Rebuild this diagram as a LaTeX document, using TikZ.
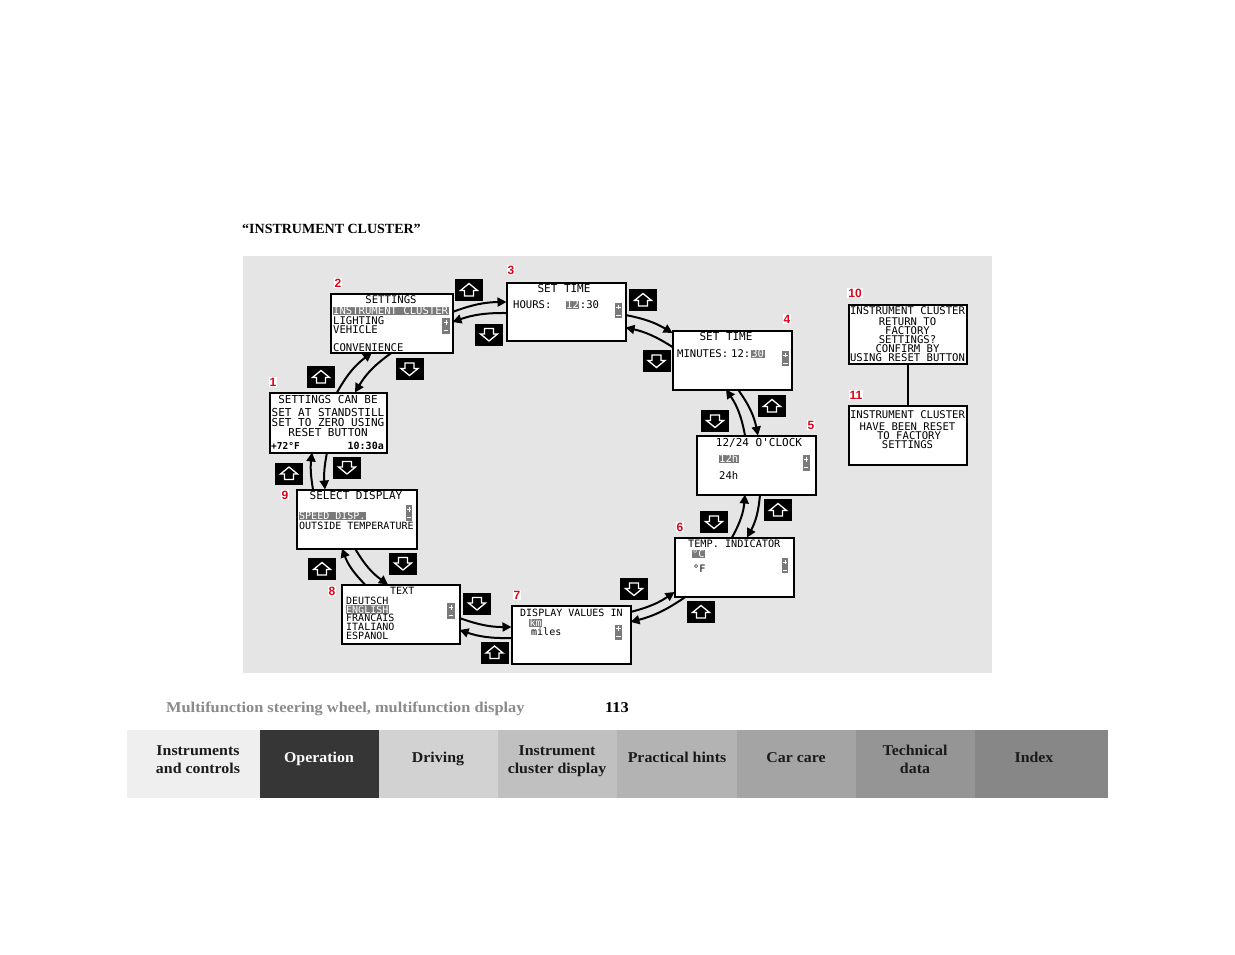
\documentclass[tikz,border=0pt]{standalone}
\usepackage{fontspec}
\setmainfont{Liberation Serif}
\newfontfamily\footfont{Liberation Serif}[FakeStretch=1.09]
\newfontfamily\tabfont{Liberation Serif}[FakeStretch=1.06]
\newfontfamily\lcdfont{DejaVu Sans Mono}[Ligatures=TeXOff]
\newfontfamily\numfont{Liberation Sans}
\usetikzlibrary{arrows.meta,calc}
\definecolor{panel}{RGB}{229,229,229}
\definecolor{hlgray}{RGB}{122,122,122}
\definecolor{labred}{RGB}{225,0,25}
\definecolor{footgray}{RGB}{138,138,138}
\definecolor{tabA}{RGB}{239,239,239}
\definecolor{tabB}{RGB}{54,54,54}
\definecolor{tabC}{RGB}{210,210,210}
\definecolor{tabD}{RGB}{192,192,192}
\definecolor{tabE}{RGB}{179,179,179}
\definecolor{tabF}{RGB}{164,164,164}
\definecolor{tabG}{RGB}{149,149,149}
\definecolor{tabH}{RGB}{135,135,135}
\definecolor{tabtext}{RGB}{26,26,26}
\begin{document}
\begin{tikzpicture}[x=1pt,y=-1pt,
  screen/.style={draw=black, line width=2pt, fill=white, inner sep=0pt, outer sep=0pt},
  lcd/.style={font=\lcdfont\fontsize{10.6}{10.6}\selectfont, inner sep=0pt, text height=7.5pt, text depth=0pt},
  lcdL/.style={lcd, font=\lcdfont\fontsize{11}{11}\selectfont},
  lcdS/.style={lcd, font=\lcdfont\fontsize{10}{10}\selectfont},
  lcdM/.style={lcd, font=\lcdfont\fontsize{10.2}{10.2}\selectfont},
  hl/.style={fill=hlgray, text=white, inner xsep=0.5pt, inner ysep=0.6pt},
  pm/.style={fill=hlgray, inner sep=0pt, minimum width=7pt, minimum height=15pt,
    path picture={
      \draw[white, line width=0.9pt]
        ([shift={(-2.2,-3.5)}]path picture bounding box.center) -- ++(4.4,0)
        ([shift={(0,-5.7)}]path picture bounding box.center) -- ++(0,4.4)
        ([shift={(-2.2,4.5)}]path picture bounding box.center) -- ++(4.4,0);}},
  btn/.style={fill=black, inner sep=0pt, minimum width=28pt, minimum height=22pt},
  upbtn/.style={btn, path picture={
      \draw[white, line width=1.3pt, line join=miter]
        ([shift={(0,-6.5)}]path picture bounding box.center) -- ++(8.5,7) -- ++(-4,0)
        -- ++(0,5.5) -- ++(-9,0) -- ++(0,-5.5) -- ++(-4,0) -- cycle;}},
  downbtn/.style={btn, path picture={
      \draw[white, line width=1.3pt, line join=miter]
        ([shift={(0,6.5)}]path picture bounding box.center) -- ++(8.5,-7) -- ++(-4,0)
        -- ++(0,-5.5) -- ++(-9,0) -- ++(0,5.5) -- ++(-4,0) -- cycle;}},
  conn/.style={line width=2pt, -{Triangle[length=9pt,width=9pt]}},
  lab/.style={font=\numfont\bfseries\fontsize{12}{12}\selectfont, text=labred, fill=white, inner sep=1pt},
  tabtxt/.style={font=\tabfont\bfseries\fontsize{15}{15}\selectfont, text=tabtext, anchor=base, inner sep=0pt}
]
\useasboundingbox (0,0) rectangle (1235,954);
\fill[white] (0,0) rectangle (1235,954);

% title
\node[anchor=base west, inner sep=0pt, font=\bfseries\fontsize{14}{14}\selectfont] (title) at (242,233.5) {“INSTRUMENT CLUSTER”};

% panel
\fill[panel] (243,256) rectangle (992,673);

% screens
\node[screen, minimum width=117pt, minimum height=60pt] (s1) at (328,422.5) {};
\node[screen, minimum width=122pt, minimum height=59pt] (s2) at (391.5,323) {};
\node[screen, minimum width=119pt, minimum height=58pt] (s3) at (566,311.5) {};
\node[screen, minimum width=119pt, minimum height=59pt] (s4) at (732,360) {};
\node[screen, minimum width=119pt, minimum height=59pt] (s5) at (756,465) {};
\node[screen, minimum width=119pt, minimum height=59pt] (s6) at (734,567) {};
\node[screen, minimum width=119pt, minimum height=58pt] (s7) at (571,634.5) {};
\node[screen, minimum width=118pt, minimum height=59pt] (s8) at (400.5,614) {};
\node[screen, minimum width=120pt, minimum height=59pt] (s9) at (356.5,519) {};
\node[screen, minimum width=118pt, minimum height=59pt] (s10) at (907.5,334) {};
\node[screen, minimum width=118pt, minimum height=59pt] (s11) at (907.5,435) {};

% connectors
\draw[conn] ([shift={(9,0)}]s1.north) to[bend left=12] ([shift={(-19.5,0)}]s2.south);
\draw[conn] ([shift={(0.5,0)}]s2.south) to[bend right=12] ([shift={(27,0)}]s1.north);
\draw[conn] ([shift={(0,-11)}]s2.east) to[bend left=10] ([shift={(0,-9.5)}]s3.west);
\draw[conn] ([shift={(0,1.5)}]s3.west) to[bend right=10] ([shift={(0,-1)}]s2.east);
\draw[conn] ([shift={(0,3.5)}]s3.east) to[bend left=10] ([shift={(0,-27)}]s4.west);
\draw[conn] ([shift={(0,-13)}]s4.west) to[bend right=10] ([shift={(0,16)}]s3.east);
\draw[conn] ([shift={(6,0)}]s4.south) to[bend left=12] ([shift={(2,0)}]s5.north);
\draw[conn] ([shift={(-11,0)}]s5.north) to[bend right=12] ([shift={(-6,0)}]s4.south);
\draw[conn] ([shift={(4,0)}]s5.south) to[bend left=12] ([shift={(13,0)}]s6.north);
\draw[conn] ([shift={(-2,0)}]s6.north) to[bend right=12] ([shift={(-11,0)}]s5.south);
\draw[conn] ([shift={(-48,0)}]s6.south) to[bend left=10] ([shift={(0,-12.5)}]s7.east);
\draw[conn] ([shift={(0,-22.5)}]s7.east) to[bend right=10] ([shift={(0,25)}]s6.west);
\draw[conn] ([shift={(0,3.5)}]s7.west) to[bend left=10] ([shift={(0,16)}]s8.east);
\draw[conn] ([shift={(0,4)}]s8.east) to[bend right=10] ([shift={(0,-7.5)}]s7.west);
\draw[conn] ([shift={(-35.5,0)}]s8.north) to[bend left=12] ([shift={(-14.5,0)}]s9.south);
\draw[conn] ([shift={(-1.5,0)}]s9.south) to[bend right=12] ([shift={(-12.5,0)}]s8.north);
\draw[conn] ([shift={(-43.5,0)}]s9.north) to[bend left=8] ([shift={(-16,0)}]s1.south);
\draw[conn] ([shift={(-1,0)}]s1.south) to[bend right=8] ([shift={(-31.5,0)}]s9.north);
\draw[line width=2pt] (s10.south) -- (s11.north);

% screen 1
\node[lcdL] (t1a) at (328,400) {SETTINGS CAN BE};
\node[lcdL] (t1b) at (328,413) {SET AT STANDSTILL};
\node[lcdL] (t1c) at (328,423) {SET TO ZERO USING};
\node[lcdL] (t1d) at (328,433) {RESET BUTTON};
\node[lcdS, anchor=west, font=\lcdfont\bfseries\fontsize{9.5}{9.5}\selectfont] (t1e) at (271,446) {+72°F};
\node[lcdS, anchor=east, font=\lcdfont\bfseries\fontsize{10}{10}\selectfont] (t1f) at (384,446) {10:30a};

% screen 2
\node[lcd] (t2a) at (391,300) {SETTINGS};
\node[lcd, hl, anchor=west] (t2b) at (332.5,311) {INSTRUMENT CLUSTER};
\node[lcd, anchor=west] (t2c) at (333,321) {LIGHTING};
\node[lcd, anchor=west] (t2d) at (333,330) {VEHICLE};
\node[lcd, anchor=west] (t2e) at (333,348) {CONVENIENCE};
\node[pm, minimum width=8pt, minimum height=16pt] (pm2) at (446,326) {};

% screen 3
\node[lcdL] (t3a) at (564,289) {SET TIME};
\node[lcd, anchor=west] (t3b) at (513,305) {HOURS:};
\node[lcd, hl, anchor=west] (t3c) at (565.5,305) {12};
\node[lcd, anchor=west] (t3d) at (t3c.east) {:30};
\node[pm] (pm3) at (618.5,310.5) {};

% screen 4
\node[lcdL] (t4a) at (726,337) {SET TIME};
\node[lcd, anchor=west] (t4b) at (677,354) {MINUTES:};
\node[lcd, anchor=west] (t4c) at (731,354) {12:};
\node[lcd, hl, anchor=west] (t4d) at (t4c.east) {30};
\node[pm] (pm4) at (785.5,358.5) {};

% screen 5
\node[lcdL] (t5a) at (759,443) {12/24 O'CLOCK};
\node[lcd, hl, anchor=west] (t5b) at (718.5,459) {12h};
\node[lcd, anchor=west] (t5c) at (719,476) {24h};
\node[pm, minimum height=16pt] (pm5) at (806,463) {};

% screen 6
\node[lcdM, anchor=west] (t6a) at (688,544) {TEMP. INDICATOR};
\node[lcdM, hl, anchor=west] (t6b) at (691.5,554) {°C};
\node[lcdM, anchor=west] (t6c) at (693,569) {°F};
\node[pm, minimum width=6.5pt] (pm6) at (785,565.5) {};

% screen 7
\node[lcdS, anchor=west] (t7a) at (520,613) {DISPLAY VALUES IN};
\node[lcdS, hl, anchor=west] (t7b) at (529,623) {km};
\node[lcdS, anchor=west] (t7c) at (531,632) {miles};
\node[pm] (pm7) at (618.5,632) {};

% screen 8
\node[lcdS, anchor=west] (t8a) at (390,591) {TEXT};
\node[lcdS, anchor=west] (t8b) at (346,601) {DEUTSCH};
\node[lcdS, hl, anchor=west, inner ysep=0.4pt] (t8c) at (345.5,609.5) {ENGLISH};
\node[lcdS, anchor=west] (t8d) at (346,618) {FRANCAIS};
\node[lcdS, anchor=west] (t8e) at (346,627) {ITALIANO};
\node[lcdS, anchor=west] (t8f) at (346,636) {ESPANOL};
\node[pm, minimum width=8pt, minimum height=16pt] (pm8) at (451,611) {};

% screen 9
\node[lcdL] (t9a) at (356,496) {SELECT DISPLAY};
\node[lcdS, hl, anchor=west] (t9b) at (298.5,516) {SPEED DISP.};
\node[lcdS, anchor=west] (t9c) at (299,526) {OUTSIDE TEMPERATURE};
\node[pm, minimum width=6.5pt, minimum height=16pt] (pm9) at (409,513) {};

% screen 10
\node[lcd] (t10a) at (907.5,311) {INSTRUMENT CLUSTER};
\node[lcd] (t10b) at (907.5,322) {RETURN TO};
\node[lcd] (t10c) at (907.5,331) {FACTORY};
\node[lcd] (t10d) at (907.5,340) {SETTINGS?};
\node[lcd] (t10e) at (907.5,349) {CONFIRM BY};
\node[lcd] (t10f) at (907.5,358) {USING RESET BUTTON};

% screen 11
\node[lcd] (t11a) at (907.5,415) {INSTRUMENT CLUSTER};
\node[lcd] (t11b) at (907.5,427) {HAVE BEEN RESET};
\node[lcd] (t11c) at (909,436) {TO FACTORY};
\node[lcd] (t11d) at (907.5,445) {SETTINGS};

% buttons
\node[upbtn] (u23) at (469,290) {};
\node[downbtn] (d23) at (489,334.5) {};
\node[upbtn] (u34) at (643,300) {};
\node[downbtn] (d34) at (656.5,361) {};
\node[upbtn] (u12) at (321,377) {};
\node[downbtn] (d12) at (409.5,369) {};
\node[downbtn] (d45) at (715,421) {};
\node[upbtn] (u45) at (772,406) {};
\node[downbtn] (d56) at (714,522) {};
\node[upbtn] (u56) at (778,510) {};
\node[upbtn] (u19) at (289,473.5) {};
\node[downbtn] (d19) at (347,467.5) {};
\node[upbtn] (u98) at (322,569) {};
\node[downbtn] (d98) at (403,563.5) {};
\node[downbtn] (d87) at (477,603.5) {};
\node[upbtn] (u87) at (494.5,652.5) {};
\node[downbtn] (d76) at (634,589) {};
\node[upbtn] (u76) at (701,612) {};

% red labels
\node[lab] (l1) at (273,382) {1};
\node[lab] (l2) at (338,283) {2};
\node[lab] (l3) at (511,270) {3};
\node[lab] (l4) at (787,319) {4};
\node[lab] (l5) at (811,425) {5};
\node[lab] (l6) at (680,527) {6};
\node[lab] (l7) at (517,595) {7};
\node[lab] (l8) at (332,591) {8};
\node[lab] (l9) at (285,495) {9};
\node[lab] (l10) at (855,293) {10};
\node[lab] (l11) at (856,395) {11};

% footer
\node[anchor=base west, inner sep=0pt, text=footgray, font=\footfont\bfseries\fontsize{15}{15}\selectfont] (foot) at (166,712) {Multifunction steering wheel, multifunction display};
\node[anchor=base west, inner sep=0pt, font=\footfont\bfseries\fontsize{15}{15}\selectfont] (page) at (605,712) {113};

% tabs
\fill[tabA] (127,730) rectangle (260,798);
\fill[tabB] (260,730) rectangle (379,798);
\fill[tabC] (379,730) rectangle (498,798);
\fill[tabD] (498,730) rectangle (617,798);
\fill[tabE] (617,730) rectangle (737,798);
\fill[tabF] (737,730) rectangle (856,798);
\fill[tabG] (856,730) rectangle (975,798);
\fill[tabH] (975,730) rectangle (1108,798);
\node[tabtxt] (tab1a) at (198,755.5) {Instruments};
\node[tabtxt] (tab1b) at (198,773.5) {and controls};
\node[tabtxt, text=white] (tab2) at (319,762.5) {Operation};
\node[tabtxt] (tab3) at (438,762.5) {Driving};
\node[tabtxt] (tab4a) at (557,755.5) {Instrument};
\node[tabtxt] (tab4b) at (557,773.5) {cluster display};
\node[tabtxt] (tab5) at (677,762.5) {Practical hints};
\node[tabtxt] (tab6) at (796,762.5) {Car care};
\node[tabtxt] (tab7a) at (915,755.5) {Technical};
\node[tabtxt] (tab7b) at (915,773.5) {data};
\node[tabtxt] (tab8) at (1034,762.5) {Index};
\end{tikzpicture}
\end{document}
